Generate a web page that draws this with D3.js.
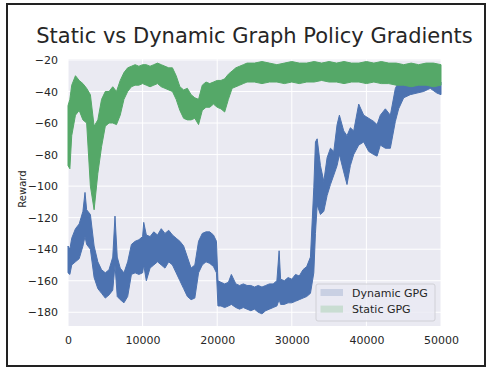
<!DOCTYPE html>
<html>
<head>
<meta charset="utf-8">
<script src="https://d3js.org/d3.v7.min.js"></script>
<style>
  body { margin: 0; background: #fff; font-family: "DejaVu Sans", sans-serif; }
  svg text { fill: #262626; }
</style>
</head>
<body>
<script>
// Dynamic GPG: step, upper and lower edge of the noisy trace
var dynSteps = [0, 250, 500, 1000, 1500, 2000, 2280, 2500, 3000, 3500,
  4000, 4500, 5000, 5500, 6000, 6300, 6600, 7000, 7500, 8000,
  8500, 9000, 9500, 10000, 10150, 10500, 11000, 11500, 12000, 12500,
  13000, 13500, 14000, 14500, 15000, 15500, 16000, 16500, 17000, 17500,
  18000, 18500, 19000, 19500, 19900, 20100, 20500, 21000, 21500, 21900,
  22500, 23000, 23500, 24000, 24500, 25000, 25500, 26000, 26500, 27000,
  27500, 28000, 28300, 28500, 29000, 29500, 30000, 30500, 31000, 31500,
  32000, 32500, 32950, 33170, 33400, 33840, 34290, 34730, 35180, 35630,
  36070, 36380, 36960, 37400, 37850, 38300, 38970, 39640, 40310, 40980,
  41430, 41870, 42540, 43210, 43880, 44320, 45000, 45880, 46780, 47670,
  48560, 49450, 50000];
var dynHigh = [-138, -140, -133, -127, -124, -116, -104, -115, -118, -138,
  -148, -153, -155, -153, -145, -119, -145, -152, -155, -148,
  -137, -135, -134, -132, -123, -131, -132, -129, -131, -127,
  -130, -128, -131, -133, -135, -138, -145, -152, -150, -135,
  -130, -129, -129, -131, -135, -160, -161, -162, -161, -156,
  -162, -163, -162, -163, -163, -164, -163, -164, -163, -162,
  -162, -160, -141, -159, -160, -158, -159, -156, -157, -153,
  -151, -145, -101, -72, -70, -87, -97, -82, -76, -78,
  -61, -55, -65, -68, -63, -65, -48, -55, -57, -59,
  -61, -55, -51, -55, -38, -34, -34, -35, -34, -33,
  -33, -32, -34];
var dynLow = [-155, -156, -150, -148, -146, -138, -132, -137, -140, -158,
  -165, -168, -171, -169, -166, -150, -170, -172, -174, -170,
  -156, -155, -156, -155, -150, -160, -152, -150, -148, -150,
  -152, -148, -150, -155, -160, -165, -170, -172, -171, -155,
  -150, -148, -149, -151, -155, -176, -176, -177, -176, -175,
  -177, -178, -177, -178, -179, -178, -180, -181, -179, -178,
  -177, -176, -172, -175, -175, -174, -174, -173, -172, -171,
  -170, -168, -155, -130, -112, -118, -116, -106, -99, -93,
  -87, -80, -91, -99, -87, -80, -74, -72, -78, -80,
  -81, -74, -76, -76, -59, -51, -44, -42, -41, -40,
  -38, -41, -42];

// Static GPG
var statSteps = [0, 250, 500, 1000, 1500, 2000, 2500, 3000, 3500, 4000,
  4500, 5000, 5500, 6000, 6500, 7000, 7500, 8000, 8500, 9000,
  9500, 10000, 10500, 11000, 11500, 12000, 12500, 13000, 13500, 14000,
  14500, 15000, 15500, 16000, 16500, 17000, 17500, 18000, 18500, 19000,
  19500, 20000, 20500, 21000, 21500, 22000, 22500, 23000, 23500, 24000,
  25000, 26000, 27000, 28000, 29000, 30000, 31000, 32000, 33000, 34000,
  35000, 36000, 37000, 38000, 39000, 40000, 41000, 42000, 43000, 44000,
  45000, 46000, 47000, 48000, 49000, 50000];
var statHigh = [-49, -45, -36, -30, -33, -35, -38, -42, -62, -58,
  -45, -40, -40, -37, -40, -33, -28, -25, -24, -23,
  -24, -23, -23, -24, -23, -22, -23, -24, -25, -25,
  -30, -37, -39, -38, -42, -44, -45, -36, -34, -35,
  -34, -33, -33, -32, -29, -27, -25, -24, -23, -22,
  -22, -21, -22, -23, -22, -21, -22, -22, -21, -22,
  -21, -22, -21, -22, -22, -21, -22, -21, -22, -22,
  -23, -22, -23, -22, -22, -23];
var statLow = [-87, -89, -68, -55, -52, -58, -60, -100, -115, -92,
  -75, -62, -60, -60, -61, -55, -45, -40, -37, -36,
  -36, -35, -36, -37, -36, -35, -37, -38, -39, -40,
  -45, -52, -57, -58, -58, -57, -61, -52, -50, -50,
  -48, -50, -51, -53, -45, -38, -37, -36, -35, -34,
  -34, -35, -34, -34, -35, -34, -35, -34, -34, -33,
  -34, -34, -35, -34, -34, -35, -34, -35, -35, -36,
  -36, -37, -36, -36, -37, -36];

var xTicks = [0, 10000, 20000, 30000, 40000, 50000];
var yTicks = [-20, -40, -60, -80, -100, -120, -140, -160, -180];
var seriesNames = ["Dynamic GPG", "Static GPG"];

var W = 494, H = 375;
var margin = {top: 59, right: 53, bottom: 49, left: 68};
var width = W - margin.left - margin.right;
var height = H - margin.top - margin.bottom;

var svg = d3.select("body").append("svg")
    .attr("width", W)
    .attr("height", H);

// outer frame
svg.append("rect")
    .attr("x", 7).attr("y", 4)
    .attr("width", 478).attr("height", 362)
    .attr("fill", "none")
    .attr("stroke", "#222")
    .attr("stroke-width", 2);

var g = svg.append("g").attr("transform", `translate(${margin.left},${margin.top})`);

var x = d3.scaleLinear().domain([0, 50000]).range([0, width]);
var y = d3.scaleLinear().domain([-188.7, -19.4]).range([height, 0]);

g.append("rect").attr("width", width).attr("height", height).attr("fill", "#EAEAF2");

// grid
g.selectAll(".gx").data(xTicks).join("line")
    .attr("x1", d => x(d)).attr("x2", d => x(d))
    .attr("y1", 0).attr("y2", height)
    .attr("stroke", "#fff").attr("stroke-width", 1);
g.selectAll(".gy").data(yTicks).join("line")
    .attr("x1", 0).attr("x2", width)
    .attr("y1", d => y(d)).attr("y2", d => y(d))
    .attr("stroke", "#fff").attr("stroke-width", 1);

function band(steps, hi, lo, color) {
    var pts = steps.map((s, i) => ({s: s, hi: hi[i], lo: lo[i]}));
    var area = d3.area()
        .x(d => x(d.s))
        .y0(d => y(d.lo))
        .y1(d => y(d.hi));
    g.append("path")
        .datum(pts)
        .attr("d", area)
        .attr("fill", color)
        .attr("stroke", color)
        .attr("stroke-width", 1)
        .attr("stroke-linejoin", "round");
}

band(dynSteps, dynHigh, dynLow, "#4C72B0");
band(statSteps, statHigh, statLow, "#55A868");

// tick labels
var xAxis = g.append("g").attr("transform", `translate(0,${height})`)
    .call(d3.axisBottom(x).tickValues(xTicks).tickSize(0).tickPadding(10).tickFormat(d3.format("d")));
var yAxis = g.append("g")
    .call(d3.axisLeft(y).tickValues(yTicks).tickSize(0).tickPadding(10).tickFormat(d => "\u2212" + Math.abs(d)));
[xAxis, yAxis].forEach(a => {
    a.select(".domain").remove();
    a.selectAll("text").style("font-family", "DejaVu Sans").style("font-size", "11px").style("fill", "#262626");
});

svg.append("text")
    .attr("transform", `translate(26,189) rotate(-90)`)
    .attr("text-anchor", "middle")
    .style("font-size", "10px")
    .text("Reward");

svg.append("text")
    .attr("x", margin.left + width / 2)
    .attr("y", 42.5)
    .attr("text-anchor", "middle")
    .style("font-size", "21px")
    .text("Static vs Dynamic Graph Policy Gradients");

// legend
var legend = svg.append("g").attr("transform", "translate(316,284)");
legend.append("rect")
    .attr("width", 119).attr("height", 37).attr("rx", 2)
    .attr("fill", "#EAEAF2").attr("fill-opacity", 0.8)
    .attr("stroke", "#d0d0d6").attr("stroke-width", 1);
var patchColors = ["#C9D0E3", "#C9DDD2"];
seriesNames.forEach((name, i) => {
    legend.append("rect")
        .attr("x", 4.5).attr("y", 5 + i * 16.6)
        .attr("width", 22.5).attr("height", 7)
        .attr("fill", patchColors[i]);
    legend.append("text")
        .attr("x", 36).attr("y", 8.7 + i * 16.6)
        .attr("dy", "0.35em")
        .style("font-size", "11px")
        .text(name);
});
</script>
</body>
</html>
